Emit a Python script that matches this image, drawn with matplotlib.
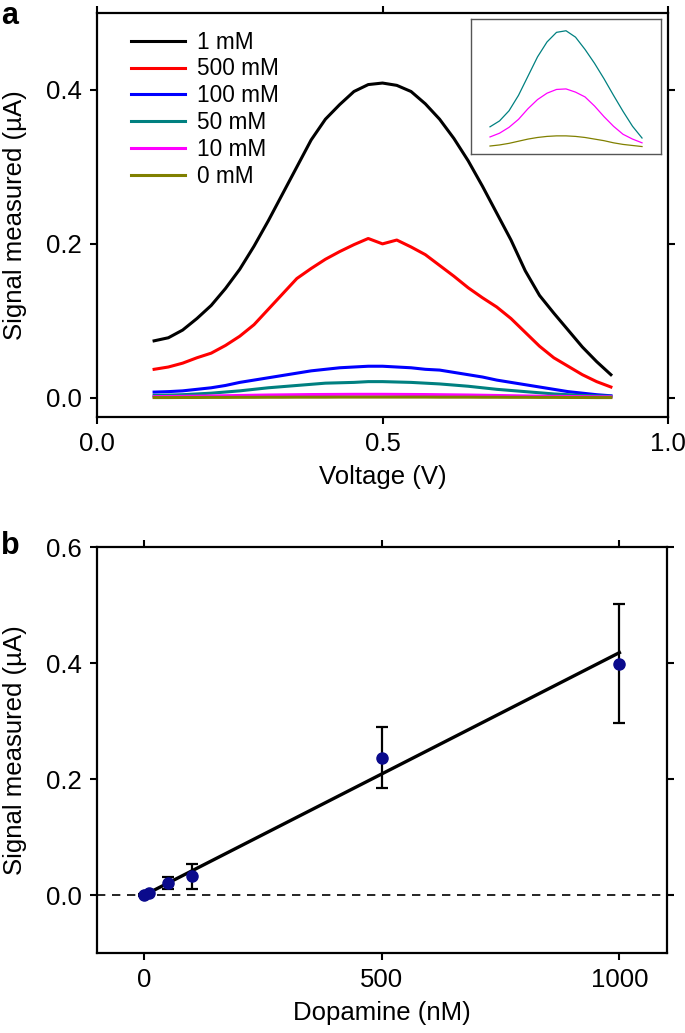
import numpy as np
import matplotlib
matplotlib.use("Agg")
import matplotlib.pyplot as plt

plt.rcParams['font.family'] = ['Liberation Sans', 'DejaVu Sans']

# ---- panel a data: signal (uA) vs voltage (V) ----
voltage = [0.100, 0.125, 0.150, 0.175, 0.200, 0.225, 0.250, 0.275, 0.300,
           0.325, 0.350, 0.375, 0.400, 0.425, 0.450, 0.475, 0.500, 0.525,
           0.550, 0.575, 0.600, 0.625, 0.650, 0.675, 0.700, 0.725, 0.750,
           0.775, 0.800, 0.825, 0.850, 0.875, 0.900]

sig_1mM = [0.074, 0.078, 0.088, 0.103, 0.120, 0.142, 0.167, 0.197, 0.230,
           0.265, 0.300, 0.335, 0.362, 0.381, 0.398, 0.407, 0.409, 0.406,
           0.398, 0.382, 0.362, 0.337, 0.308, 0.275, 0.240, 0.205, 0.165,
           0.133, 0.110, 0.088, 0.066, 0.047, 0.030]
sig_500mM = [0.037, 0.040, 0.045, 0.052, 0.058, 0.068, 0.080, 0.095, 0.115,
             0.135, 0.155, 0.168, 0.180, 0.190, 0.199, 0.207, 0.200, 0.205,
             0.196, 0.186, 0.172, 0.158, 0.143, 0.130, 0.118, 0.103, 0.085,
             0.067, 0.052, 0.041, 0.030, 0.021, 0.014]
sig_100mM = [0.0074, 0.008, 0.009, 0.011, 0.013, 0.016, 0.020, 0.023, 0.026,
             0.029, 0.032, 0.035, 0.037, 0.039, 0.040, 0.041, 0.041, 0.040,
             0.039, 0.037, 0.036, 0.033, 0.030, 0.027, 0.023, 0.020, 0.017,
             0.014, 0.011, 0.008, 0.006, 0.004, 0.0026]
sig_50mM = [0.003, 0.0035, 0.004, 0.005, 0.006, 0.0075, 0.009, 0.011, 0.013,
            0.0145, 0.016, 0.0175, 0.019, 0.0195, 0.020, 0.021, 0.021, 0.0205,
            0.020, 0.019, 0.018, 0.0165, 0.015, 0.013, 0.011, 0.0095, 0.008,
            0.0065, 0.005, 0.004, 0.003, 0.0025, 0.002]
sig_10mM = [0.0015, 0.0017, 0.0019, 0.0021, 0.0024, 0.0027, 0.0030, 0.0033, 0.0036,
            0.0038, 0.0040, 0.0042, 0.0043, 0.0044, 0.0045, 0.0045, 0.0045, 0.0044,
            0.0043, 0.0042, 0.0040, 0.0038, 0.0036, 0.0033, 0.0030, 0.0027, 0.0024,
            0.0021, 0.0019, 0.0017, 0.0015, 0.0013, 0.0012]
sig_0mM = [0.0003, 0.0003, 0.0004, 0.0004, 0.0005, 0.0005, 0.0006, 0.0006, 0.0007,
           0.0007, 0.0008, 0.0008, 0.0008, 0.0009, 0.0009, 0.0009, 0.0009, 0.0009,
           0.0009, 0.0009, 0.0008, 0.0008, 0.0008, 0.0007, 0.0007, 0.0006, 0.0006,
           0.0005, 0.0005, 0.0004, 0.0004, 0.0003, 0.0003]

labels_a = ['1 mM', '500 mM', '100 mM', '50 mM', '10 mM', '0 mM']
colors_a = ['black', '#ff0000', '#0000ff', '#008080', '#ff00ff', '#808000']

# inset (zoom on the three lowest curves)
v_inset = [0.10, 0.15, 0.20, 0.25, 0.30, 0.35, 0.40, 0.45, 0.50,
           0.55, 0.60, 0.65, 0.70, 0.75, 0.80, 0.85, 0.90]
inset_50mM = [0.0041, 0.0052, 0.0071, 0.0100, 0.0136, 0.0172, 0.0200, 0.0218, 0.0221,
              0.0209, 0.0186, 0.0160, 0.0131, 0.0100, 0.0070, 0.0042, 0.0020]
inset_10mM = [0.0022, 0.0029, 0.0040, 0.0055, 0.0075, 0.0092, 0.0104, 0.0111, 0.0112,
              0.0106, 0.0097, 0.0080, 0.0060, 0.0042, 0.0027, 0.0018, 0.0011]
inset_0mM = [0.0005, 0.0007, 0.0010, 0.0014, 0.0018, 0.0021, 0.0023, 0.0024, 0.0024,
             0.0023, 0.0021, 0.0018, 0.0015, 0.0011, 0.0008, 0.0006, 0.0004]

# ---- panel b data: calibration ----
dopamine = [0, 10, 50, 100, 500, 1000]
signal_b = [0.000, 0.004, 0.021, 0.032, 0.237, 0.399]
err_b = [0.002, 0.003, 0.010, 0.021, 0.052, 0.102]
fit_x = [0, 1000]
fit_y = [0.0, 0.418]

fig = plt.figure(figsize=(6.85, 10.33), dpi=100)

FS = 18.5

def style_axes(ax):
    for sp in ax.spines.values():
        sp.set_linewidth(1.6)
    ax.tick_params(direction='out', length=5, width=1.5, labelsize=FS,
                   top=True, right=True, pad=6)

# panel a
ax1 = fig.add_axes([0.1416, 0.5963, 0.8336, 0.3911])
series = [sig_1mM, sig_500mM, sig_100mM, sig_50mM, sig_10mM, sig_0mM]
for s, lab, c in zip(series, labels_a, colors_a):
    ax1.plot(voltage, s, color=c, lw=2.2, label=lab)
ax1.set_xlim(0, 1.0)
ax1.set_ylim(-0.025, 0.5)
ax1.set_xticks([0.0, 0.5, 1.0])
ax1.set_xticklabels(['0.0', '0.5', '1.0'])
ax1.set_yticks([0.0, 0.2, 0.4])
ax1.set_yticklabels(['0.0', '0.2', '0.4'])
style_axes(ax1)
ax1.tick_params(labeltop=False, labelright=False)
ax1.set_xlabel('Voltage (V)', fontsize=FS, labelpad=6)
ax1.set_ylabel('Signal measured (\u00b5A)', fontsize=FS)
ax1.yaxis.set_label_coords(-0.122, 0.5)
leg = ax1.legend(loc='upper left', bbox_to_anchor=(0.035, 0.99), frameon=False,
                 fontsize=16.3, handlelength=2.4, handletextpad=0.55,
                 labelspacing=0.17, borderaxespad=0.2)
for h in leg.get_lines():
    h.set_linewidth(2.2)

# inset
axi = fig.add_axes([0.6876, 0.8509, 0.2774, 0.1307])
axi.plot(v_inset, inset_50mM, color='#008080', lw=0.9)
axi.plot(v_inset, inset_10mM, color='#ff00ff', lw=0.9)
axi.plot(v_inset, inset_0mM, color='#808000', lw=0.9)
axi.set_xlim(0, 1.0)
axi.set_ylim(-0.001, 0.0243)
axi.set_xticks([])
axi.set_yticks([])
for sp in axi.spines.values():
    sp.set_color('#555555')
    sp.set_linewidth(1.0)

# panel b
ax2 = fig.add_axes([0.1416, 0.0774, 0.832, 0.393])
ax2.axhline(0, color='black', lw=1.2, ls=(0, (5, 4)))
ax2.plot(fit_x, fit_y, color='black', lw=2.4)
ax2.errorbar(dopamine, signal_b, yerr=err_b, fmt='o', color='#0a0a8c',
             ms=8, ecolor='black', elinewidth=1.6, capsize=4, capthick=1.6,
             zorder=3)
ax2.set_xlim(-100, 1100)
ax2.set_ylim(-0.1, 0.6)
ax2.set_xticks([0, 500, 1000])
ax2.set_yticks([0.0, 0.2, 0.4, 0.6])
ax2.set_yticklabels(['0.0', '0.2', '0.4', '0.6'])
style_axes(ax2)
ax2.tick_params(labeltop=False, labelright=False)
ax2.set_xlabel('Dopamine (nM)', fontsize=FS, labelpad=6)
ax2.set_ylabel('Signal measured (\u00b5A)', fontsize=FS)
ax2.yaxis.set_label_coords(-0.122, 0.5)

fig.text(0.002, 0.999, 'a', fontsize=22, fontweight='bold', va='top', ha='left')
fig.text(0.002, 0.486, 'b', fontsize=22, fontweight='bold', va='top', ha='left')

fig.savefig('out.png', dpi=100)
